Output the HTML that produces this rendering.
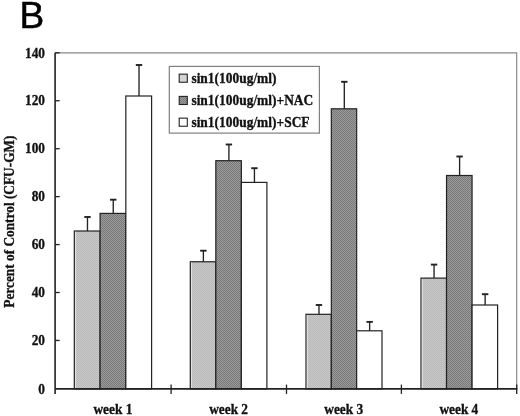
<!DOCTYPE html>
<html lang="en">
<head>
<meta charset="utf-8">
<title>B</title>
<style>
html,body{margin:0;padding:0;background:#fff;}
body{width:520px;height:416px;overflow:hidden;}
svg{display:block;}
text{font-family:"Liberation Serif","Times New Roman",serif;font-weight:bold;font-size:13.33px;fill:#111;stroke:#111;stroke-width:0.3px;}
text.lg{font-size:13.45px;}
text.panel{font-family:"Liberation Sans",Arial,sans-serif;font-weight:normal;font-size:36px;fill:#000;stroke:#000;stroke-width:0.5px;}
</style>
</head>
<body>
<svg width="520" height="416" viewBox="0 0 520 416">
<defs>
<pattern id="pd" width="2" height="2" patternUnits="userSpaceOnUse">
<rect width="2" height="2" fill="#9c9c9c"/>
<rect x="0" y="0" width="1" height="1" fill="#787878"/>
<rect x="1" y="1" width="1" height="1" fill="#787878"/>
</pattern>
<pattern id="pl" width="2" height="2" patternUnits="userSpaceOnUse">
<rect width="2" height="2" fill="#c8c8c8"/>
<rect x="0" y="0" width="1" height="1" fill="#bababa"/>
<rect x="1" y="1" width="1" height="1" fill="#bababa"/>
</pattern>
</defs>
<rect width="520" height="416" fill="#ffffff"/>
<text class="panel" transform="translate(19.5 27.7) scale(1.03 1)">B</text>

<path d="M55.1 52.8H516.7V388.9" fill="none" stroke="#868686" stroke-width="1.15"/>
<rect x="74.30" y="231.00" width="25.77" height="157.90" fill="url(#pl)" stroke="#222222" stroke-width="1.2"/>
<path d="M75.55 231.80V388.00" fill="none" stroke="#e6e6e6" stroke-width="0.9"/>
<path d="M87.48 231.00V216.80" fill="none" stroke="#222222" stroke-width="1.35"/>
<path d="M84.28 217.00H90.68" fill="none" stroke="#222222" stroke-width="1.9"/>
<rect x="100.07" y="213.40" width="25.77" height="175.50" fill="url(#pd)" stroke="#222222" stroke-width="1.2"/>
<path d="M113.25 213.40V199.50" fill="none" stroke="#222222" stroke-width="1.35"/>
<path d="M110.05 199.70H116.45" fill="none" stroke="#222222" stroke-width="1.9"/>
<rect x="125.83" y="96.00" width="25.77" height="292.90" fill="#ffffff" stroke="#222222" stroke-width="1.2"/>
<path d="M139.02 96.00V64.80" fill="none" stroke="#222222" stroke-width="1.35"/>
<path d="M135.82 65.00H142.22" fill="none" stroke="#222222" stroke-width="1.9"/>
<rect x="190.30" y="261.75" width="25.53" height="127.15" fill="url(#pl)" stroke="#222222" stroke-width="1.2"/>
<path d="M191.55 262.55V388.00" fill="none" stroke="#e6e6e6" stroke-width="0.9"/>
<path d="M203.37 261.75V250.50" fill="none" stroke="#222222" stroke-width="1.35"/>
<path d="M200.17 250.70H206.57" fill="none" stroke="#222222" stroke-width="1.9"/>
<rect x="215.83" y="160.70" width="25.53" height="228.20" fill="url(#pd)" stroke="#222222" stroke-width="1.2"/>
<path d="M228.90 160.70V144.30" fill="none" stroke="#222222" stroke-width="1.35"/>
<path d="M225.70 144.50H232.10" fill="none" stroke="#222222" stroke-width="1.9"/>
<rect x="241.37" y="182.40" width="25.53" height="206.50" fill="#ffffff" stroke="#222222" stroke-width="1.2"/>
<path d="M254.43 182.40V168.00" fill="none" stroke="#222222" stroke-width="1.35"/>
<path d="M251.23 168.20H257.63" fill="none" stroke="#222222" stroke-width="1.9"/>
<rect x="306.00" y="314.30" width="25.33" height="74.60" fill="url(#pl)" stroke="#222222" stroke-width="1.2"/>
<path d="M307.25 315.10V388.00" fill="none" stroke="#e6e6e6" stroke-width="0.9"/>
<path d="M318.97 314.30V304.80" fill="none" stroke="#222222" stroke-width="1.35"/>
<path d="M315.77 305.00H322.17" fill="none" stroke="#222222" stroke-width="1.9"/>
<rect x="331.33" y="108.80" width="25.33" height="280.10" fill="url(#pd)" stroke="#222222" stroke-width="1.2"/>
<path d="M344.30 108.80V81.60" fill="none" stroke="#222222" stroke-width="1.35"/>
<path d="M341.10 81.80H347.50" fill="none" stroke="#222222" stroke-width="1.9"/>
<rect x="356.67" y="330.80" width="25.33" height="58.10" fill="#ffffff" stroke="#222222" stroke-width="1.2"/>
<path d="M369.63 330.80V321.70" fill="none" stroke="#222222" stroke-width="1.35"/>
<path d="M366.43 321.90H372.83" fill="none" stroke="#222222" stroke-width="1.9"/>
<rect x="421.00" y="278.10" width="25.53" height="110.80" fill="url(#pl)" stroke="#222222" stroke-width="1.2"/>
<path d="M422.25 278.90V388.00" fill="none" stroke="#e6e6e6" stroke-width="0.9"/>
<path d="M434.07 278.10V264.40" fill="none" stroke="#222222" stroke-width="1.35"/>
<path d="M430.87 264.60H437.27" fill="none" stroke="#222222" stroke-width="1.9"/>
<rect x="446.53" y="175.50" width="25.53" height="213.40" fill="url(#pd)" stroke="#222222" stroke-width="1.2"/>
<path d="M459.60 175.50V156.30" fill="none" stroke="#222222" stroke-width="1.35"/>
<path d="M456.40 156.50H462.80" fill="none" stroke="#222222" stroke-width="1.9"/>
<rect x="472.07" y="305.00" width="25.53" height="83.90" fill="#ffffff" stroke="#222222" stroke-width="1.2"/>
<path d="M485.13 305.00V294.00" fill="none" stroke="#222222" stroke-width="1.35"/>
<path d="M481.93 294.20H488.33" fill="none" stroke="#222222" stroke-width="1.9"/>
<path d="M55.1 52.8V393.9" fill="none" stroke="#222222" stroke-width="1.6"/>
<path d="M55.1 388.9H517.3000000000001" fill="none" stroke="#222222" stroke-width="1.7"/>
<text transform="translate(45.00 393.65) scale(1 1.1)" text-anchor="end">0</text>
<path d="M55.1 340.46h4.6" fill="none" stroke="#222222" stroke-width="1.3"/>
<text transform="translate(45.00 345.21) scale(1 1.1)" text-anchor="end">20</text>
<path d="M55.1 292.51h4.6" fill="none" stroke="#222222" stroke-width="1.3"/>
<text transform="translate(45.00 297.26) scale(1 1.1)" text-anchor="end">40</text>
<path d="M55.1 244.57h4.6" fill="none" stroke="#222222" stroke-width="1.3"/>
<text transform="translate(45.00 249.32) scale(1 1.1)" text-anchor="end">60</text>
<path d="M55.1 196.63h4.6" fill="none" stroke="#222222" stroke-width="1.3"/>
<text transform="translate(45.00 201.38) scale(1 1.1)" text-anchor="end">80</text>
<path d="M55.1 148.69h4.6" fill="none" stroke="#222222" stroke-width="1.3"/>
<text transform="translate(45.00 153.44) scale(1 1.1)" text-anchor="end">100</text>
<path d="M55.1 100.74h4.6" fill="none" stroke="#222222" stroke-width="1.3"/>
<text transform="translate(45.00 105.49) scale(1 1.1)" text-anchor="end">120</text>
<path d="M55.1 52.80h4.6" fill="none" stroke="#222222" stroke-width="1.3"/>
<text transform="translate(45.00 57.55) scale(1 1.1)" text-anchor="end">140</text>
<path d="M171.10 384.59999999999997V393.9" fill="none" stroke="#222222" stroke-width="1.3"/>
<path d="M286.50 384.59999999999997V393.9" fill="none" stroke="#222222" stroke-width="1.3"/>
<path d="M401.40 384.59999999999997V393.9" fill="none" stroke="#222222" stroke-width="1.3"/>
<path d="M516.70 384.59999999999997V393.9" fill="none" stroke="#222222" stroke-width="1.3"/>
<text transform="translate(112.90 413.80) scale(1 1.1)" text-anchor="middle">week 1</text>
<text transform="translate(228.60 413.80) scale(1 1.1)" text-anchor="middle">week 2</text>
<text transform="translate(343.75 413.80) scale(1 1.1)" text-anchor="middle">week 3</text>
<text transform="translate(458.85 413.80) scale(1 1.1)" text-anchor="middle">week 4</text>
<text transform="translate(13.50 221.60) rotate(-90) scale(1 1.1)" text-anchor="middle">Percent of Control (CFU-GM)</text>
<rect x="169.3" y="66.4" width="150.1" height="66.7" fill="#ffffff" stroke="#808080" stroke-width="1.2"/>
<rect x="179.2" y="74.15" width="8.1" height="8.1" fill="#d4d4d4" stroke="#222222" stroke-width="1.1"/>
<text transform="translate(191.40 83.00) scale(1 1.1)" class="lg">sin1(100ug/ml)</text>
<rect x="179.2" y="96.40" width="8.1" height="8.1" fill="url(#pd)" stroke="#222222" stroke-width="1.1"/>
<text transform="translate(191.40 105.25) scale(1 1.1)" class="lg">sin1(100ug/ml)+NAC</text>
<rect x="179.2" y="118.15" width="8.1" height="8.1" fill="#ffffff" stroke="#222222" stroke-width="1.1"/>
<text transform="translate(191.40 127.00) scale(1 1.1)" class="lg">sin1(100ug/ml)+SCF</text>
</svg>
</body>
</html>
